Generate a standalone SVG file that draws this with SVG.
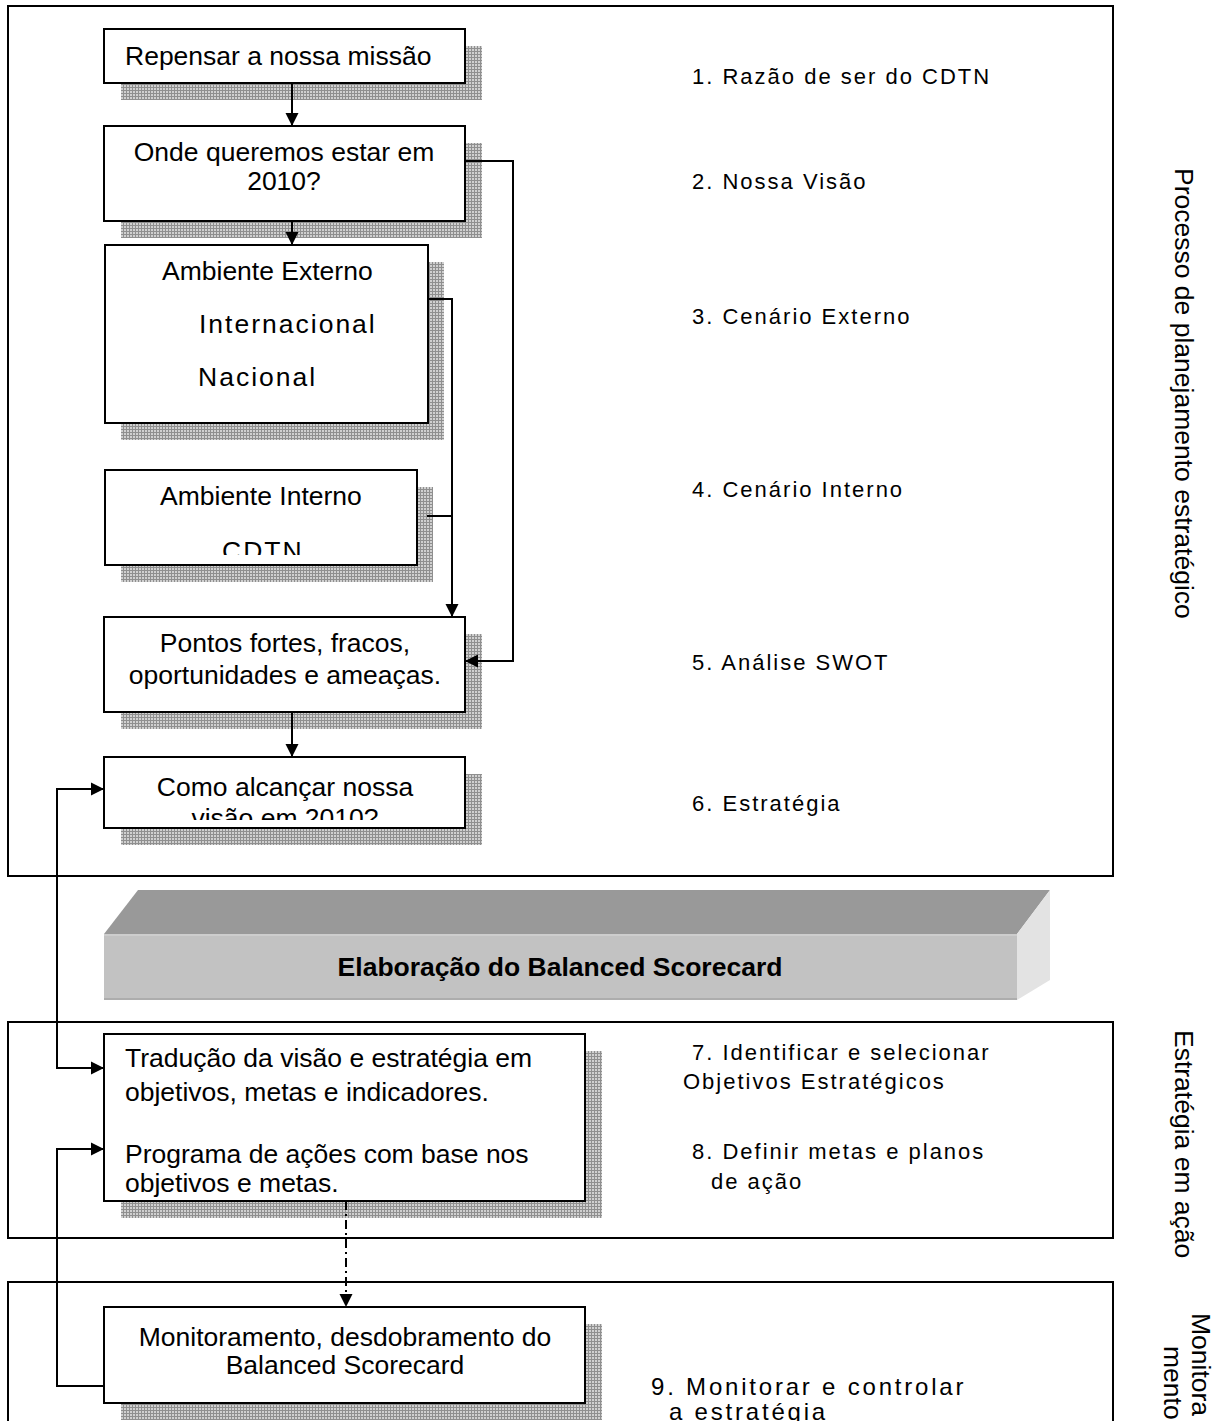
<svg xmlns="http://www.w3.org/2000/svg" width="1219" height="1421" viewBox="0 0 1219 1421">
<defs>
<pattern id="hatch" width="3" height="3" patternUnits="userSpaceOnUse"><rect width="3" height="3" fill="#d0d0d0"/><path d="M0 0.5H3M0.5 0V3" stroke="#8f8f8f" stroke-width="1"/></pattern>
<marker id="ah" markerUnits="userSpaceOnUse" markerWidth="14" markerHeight="14" refX="13" refY="7" orient="auto-start-reverse"><path d="M0,0.5 L13,7 L0,13.5 z" fill="#000"/></marker>
<clipPath id="c4"><rect x="106" y="472" width="310" height="83"/></clipPath>
<clipPath id="c6"><rect x="106" y="759" width="357" height="61"/></clipPath>
</defs>
<style>
.frame{fill:none;stroke:#000;stroke-width:2}
.box{fill:#fff;stroke:#000;stroke-width:2}
.sh{fill:url(#hatch)}
.t{font-family:"Liberation Sans",Arial,sans-serif;font-size:26.5px;fill:#000}
.sp{letter-spacing:2px}
.c{text-anchor:middle}
.lbl{font-family:"Liberation Sans",Arial,sans-serif;font-size:22px;letter-spacing:2px;fill:#000}
.lbl9{font-family:"Liberation Sans",Arial,sans-serif;font-size:24px;letter-spacing:2.8px;fill:#000}
.con{fill:none;stroke:#000;stroke-width:2}
</style>
<rect width="1219" height="1421" fill="#fff"/>
<g id="frames">
<rect class="frame" x="8" y="6" width="1105" height="870"/>
<rect class="frame" x="8" y="1022" width="1105" height="216"/>
<rect class="frame" x="8" y="1282" width="1105" height="150"/>
</g>
<g id="n1"><rect class="sh" x="121" y="46" width="361" height="54"/><rect class="box" x="104" y="29" width="361" height="54"/><text class="t" x="125" y="65">Repensar a nossa missão</text></g>
<g id="n2"><rect class="sh" x="121" y="143" width="361" height="95"/><rect class="box" x="104" y="126" width="361" height="95"/><text class="t c" x="284" y="161">Onde queremos estar em</text><text class="t c" x="284" y="190">2010?</text></g>
<g id="n3"><rect class="sh" x="121" y="262" width="323" height="178"/><rect class="box" x="105" y="245" width="323" height="178"/><text class="t" x="162" y="280">Ambiente Externo</text><text class="t sp" x="199" y="333">Internacional</text><text class="t sp" x="198" y="386">Nacional</text></g>
<g id="n4"><rect class="sh" x="121" y="487" width="312" height="95"/><rect class="box" x="105" y="470" width="312" height="95"/><text class="t" x="160" y="505">Ambiente Interno</text><g clip-path="url(#c4)"><text class="t sp" x="222" y="560">CDTN</text></g></g>
<g id="n5"><rect class="sh" x="121" y="634" width="361" height="95"/><rect class="box" x="104" y="617" width="361" height="95"/><text class="t c" x="285" y="652">Pontos fortes, fracos,</text><text class="t c" x="285" y="684">oportunidades e ameaças.</text></g>
<g id="n6"><rect class="sh" x="121" y="774" width="361" height="71"/><rect class="box" x="104" y="757" width="361" height="71"/><g clip-path="url(#c6)"><text class="t c" x="285" y="796">Como alcançar nossa</text><text class="t c" x="285" y="827">visão em 2010?</text></g></g>
<g id="bsc">
<polygon points="104,934 138,890 1050,890 1017,934" fill="#999999"/>
<polygon points="1017,934 1050,890 1050,980 1017,1000" fill="#e3e3e3"/>
<rect x="104" y="934" width="913" height="66" fill="#c2c2c2"/>
<rect x="104" y="934" width="913" height="2" fill="#cdcdcd"/>
<rect x="104" y="998" width="913" height="2" fill="#adadad"/>
<text class="t c" x="560" y="976" style="font-weight:bold">Elaboração do Balanced Scorecard</text>
</g>
<g id="n7"><rect class="sh" x="121" y="1051" width="481" height="167"/><rect class="box" x="104" y="1034" width="481" height="167"/><text class="t" x="125" y="1067">Tradução da visão e estratégia em</text><text class="t" x="125" y="1101">objetivos, metas e indicadores.</text><text class="t" x="125" y="1163">Programa de ações com base nos</text><text class="t" x="125" y="1192">objetivos e metas.</text></g>
<g id="n9"><rect class="sh" x="121" y="1324" width="481" height="96"/><rect class="box" x="104" y="1307" width="481" height="96"/><text class="t c" x="345" y="1346">Monitoramento, desdobramento do</text><text class="t c" x="345" y="1374">Balanced Scorecard</text></g>
<g id="labels">
<text class="lbl" x="692" y="84">1. Razão de ser do CDTN</text>
<text class="lbl" x="692" y="189">2. Nossa Visão</text>
<text class="lbl" x="692" y="324">3. Cenário Externo</text>
<text class="lbl" x="692" y="497">4. Cenário Interno</text>
<text class="lbl" x="692" y="670">5. Análise SWOT</text>
<text class="lbl" x="692" y="811">6. Estratégia</text>
<text class="lbl" x="692" y="1060">7. Identificar e selecionar</text>
<text class="lbl" x="683" y="1089"> Objetivos Estratégicos</text>
<text class="lbl" x="692" y="1159">8. Definir metas e planos</text>
<text class="lbl" x="711" y="1189">de ação</text>
<text class="lbl9" x="651" y="1395">9. Monitorar e controlar</text>
<text class="lbl9" x="669" y="1420">a estratégia</text>
</g>
<g id="side">
<text class="t" transform="translate(1175,168) rotate(90)">Processo de planejamento estratégico</text>
<text class="t" transform="translate(1175,1030) rotate(90)">Estratégia em ação</text>
<text class="t" transform="translate(1192,1313) rotate(90)">Monitora</text>
<text class="t" transform="translate(1164,1346) rotate(90)">mento</text>
</g>
<g id="connectors">
<path class="con" d="M292,83 V126" marker-end="url(#ah)"/>
<path class="con" d="M292,221 V245" marker-end="url(#ah)"/>
<path class="con" d="M465,161 H513 V661 H465" marker-end="url(#ah)"/>
<path class="con" d="M428,299 H452 V617" marker-end="url(#ah)"/>
<path class="con" d="M427,516 H452"/>
<path class="con" d="M292,712 V757" marker-end="url(#ah)"/>
<path class="con" d="M104,789 H57 V1068 H104" marker-start="url(#ah)" marker-end="url(#ah)"/>
<path class="con" d="M104,1386 H57 V1149 H104" marker-end="url(#ah)"/>
<path class="con" d="M346,1201 V1307" stroke-dasharray="9 4 2 4" marker-end="url(#ah)"/>
</g>
</svg>
